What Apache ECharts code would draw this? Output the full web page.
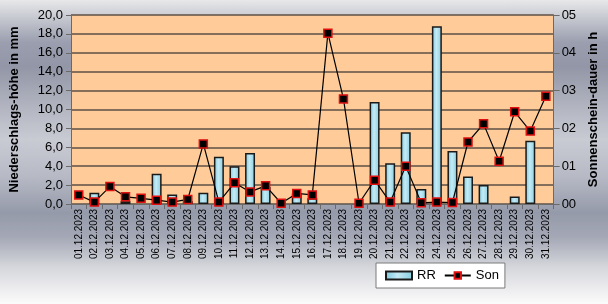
<!DOCTYPE html>
<html>
<head>
<meta charset="utf-8">
<script src="https://cdn.jsdelivr.net/npm/echarts@6/dist/echarts.min.js"></script>
<style>
html,body{margin:0;padding:0;}
#c{width:608px;height:304px;background:linear-gradient(to bottom,#e8e8ea 0%,#c6c8d0 6%,#9a9eae 14%,#9296a6 22%,#b4b7c2 36%,#c9cbd3 46%,#b7bac5 58%,#959aaa 70%,#a4a8b6 78%,#d6d7dc 88%,#fbfbfb 100%);}
</style>
</head>
<body>
<div id="c"></div>
<script>
var categories = ["01.12.2023","02.12.2023","03.12.2023","04.12.2023","05.12.2023","06.12.2023","07.12.2023","08.12.2023","09.12.2023","10.12.2023","11.12.2023","12.12.2023","13.12.2023","14.12.2023","15.12.2023","16.12.2023","17.12.2023","18.12.2023","19.12.2023","20.12.2023","21.12.2023","22.12.2023","23.12.2023","24.12.2023","25.12.2023","26.12.2023","27.12.2023","28.12.2023","29.12.2023","30.12.2023","31.12.2023"];
var rrValues = [0,1.2,0,0.3,0,3.2,1.0,0.3,1.2,5.0,4.0,5.4,1.8,0,1.1,0.6,0,0,0,10.8,4.3,7.6,1.6,18.8,5.6,2.9,2.0,0,0.8,6.7,0];
var sonValues = [0.24,0.05,0.46,0.19,0.15,0.1,0.05,0.12,1.59,0.05,0.56,0.32,0.48,0.02,0.28,0.24,4.52,2.78,0.02,0.63,0.05,1.0,0.03,0.05,0.04,1.64,2.12,1.13,2.44,1.93,2.85];
var leftTicks = {min:0,max:20,interval:2};
var rightTicks = {min:0,max:5,interval:1};

var chart = echarts.init(document.getElementById('c'));
var barFill = new echarts.graphic.LinearGradient(0,0,1,0,[
  {offset:0,color:'#7cc6dc'},{offset:0.45,color:'#c4ebf5'},{offset:1,color:'#86cce0'}]);
chart.setOption({
  animation:false,
  textStyle:{fontFamily:'Liberation Sans, Arial, sans-serif'},
  grid:{left:68,right:54,top:15,bottom:100,show:true,backgroundColor:'#ffcc99',borderWidth:0},
  legend:{
    orient:'horizontal',left:376,top:263,padding:[6,6,6,9],
    backgroundColor:'#ffffff',borderColor:'#7a7a7a',borderWidth:1,
    itemGap:8,itemWidth:26,itemHeight:8,
    textStyle:{fontSize:13,color:'#000'},
    data:[{name:'RR',icon:'rect'},{name:'Son'}]
  },
  xAxis:{
    type:'category',data:categories,
    axisLine:{show:true,lineStyle:{color:'#6a6a6a',width:1}},
    axisTick:{show:true,alignWithLabel:false,length:5,lineStyle:{color:'#6a6a6a'}},
    axisLabel:{rotate:90,fontSize:10,color:'#000',margin:5,interval:0}
  },
  yAxis:[{
    type:'value',min:leftTicks.min,max:leftTicks.max,interval:leftTicks.interval,
    name:'Niederschlags-höhe in mm',nameLocation:'middle',nameRotate:90,nameGap:50,
    nameTextStyle:{fontSize:13,fontWeight:'bold',color:'#000'},
    axisLine:{show:true,lineStyle:{color:'#6a6a6a'}},
    axisTick:{show:true,length:5,lineStyle:{color:'#6a6a6a'}},
    axisLabel:{fontSize:13,color:'#000',margin:8,formatter:function(v){return v.toFixed(1).replace('.',',');}},
    splitLine:{show:true,lineStyle:{color:'#5e5046',width:1.5}}
  },{
    type:'value',min:rightTicks.min,max:rightTicks.max,interval:rightTicks.interval,position:'right',
    name:'Sonnenschein-dauer in h',nameLocation:'middle',nameRotate:90,nameGap:32,
    nameTextStyle:{fontSize:13,fontWeight:'bold',color:'#000'},
    axisLine:{show:true,lineStyle:{color:'#6a6a6a'}},
    axisTick:{show:true,length:6,lineStyle:{color:'#6a6a6a'}},
    axisLabel:{fontSize:13,color:'#000',margin:8,formatter:function(v){return (v<10?'0':'')+v;}},
    splitLine:{show:false}
  }],
  series:[{
    name:'RR',type:'bar',yAxisIndex:0,barWidth:'64%',
    data:rrValues.map(function(v){return v===0?null:v;}),
    itemStyle:{color:barFill,borderColor:'#1a1a1a',borderWidth:1.5}
  },{
    name:'Son',type:'line',data:sonValues,yAxisIndex:1,
    symbol:'rect',symbolSize:8,showAllSymbol:true,
    lineStyle:{color:'#000',width:1.2},
    itemStyle:{color:'#000',borderColor:'#e01010',borderWidth:1.5}
  }]
});
</script>
</body>
</html>
